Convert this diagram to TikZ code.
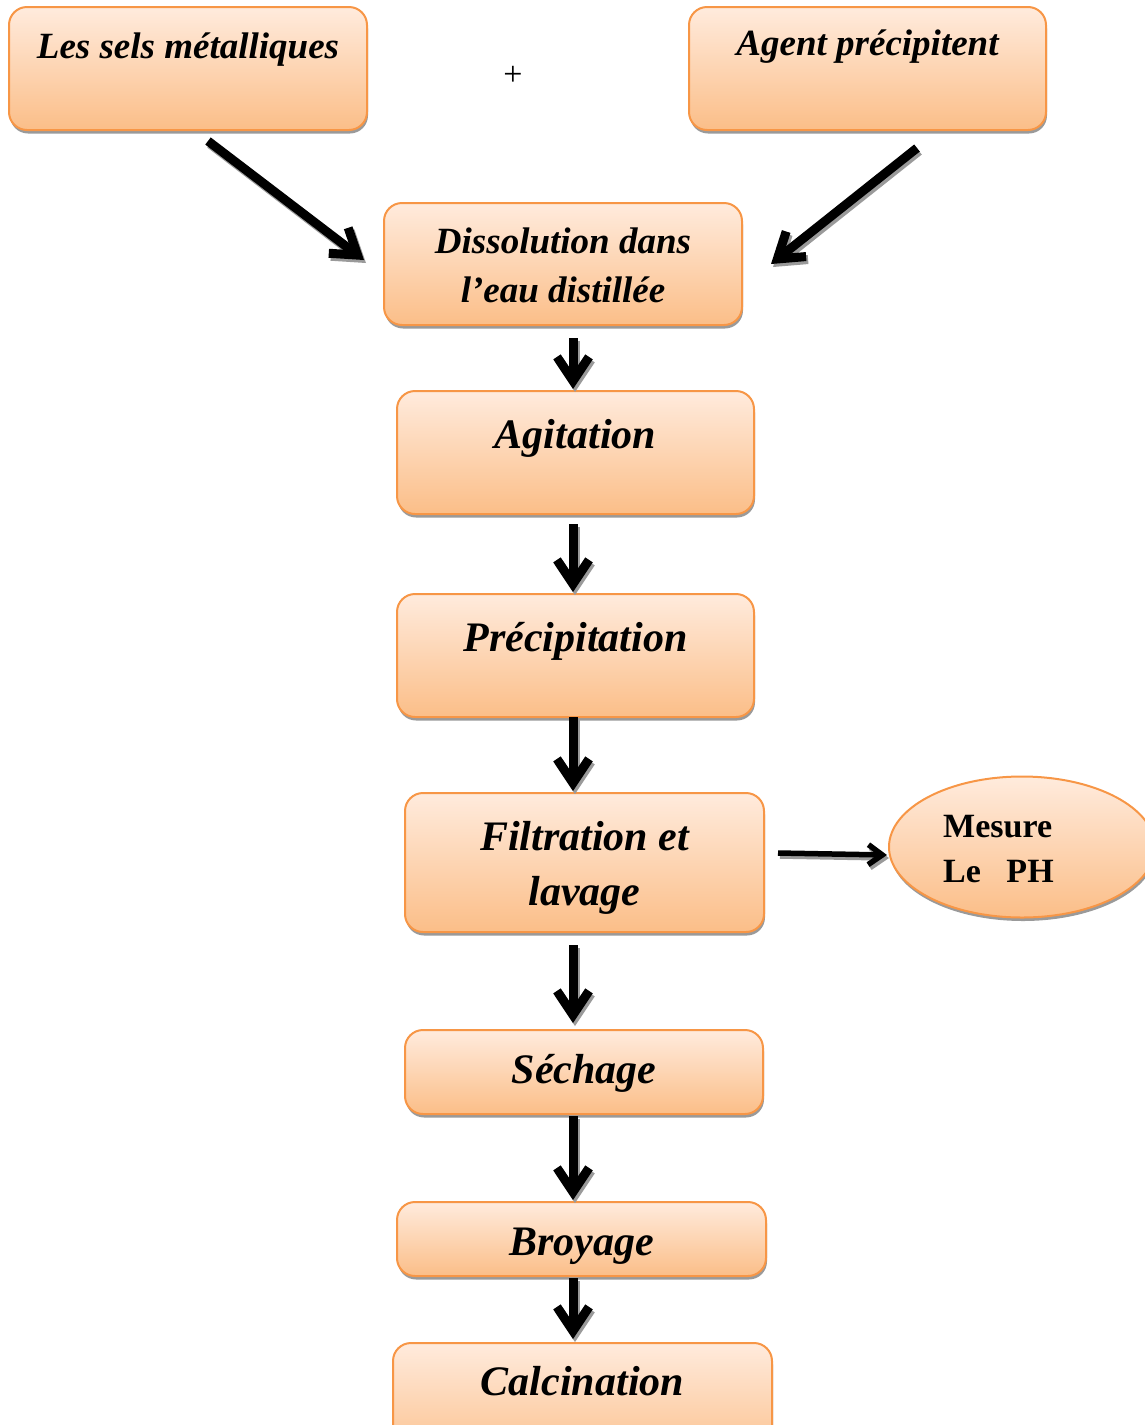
\documentclass[tikz,border=0pt]{standalone}
\usepackage{fontspec}
\setmainfont{Liberation Serif}
\usetikzlibrary{arrows.meta,shapes.geometric,shadows,calc}
\definecolor{boxline}{HTML}{F79646}
\definecolor{boxtop}{HTML}{FFEBDD}
\definecolor{boxbot}{HTML}{FBBE88}
\definecolor{shadowgray}{HTML}{9A9A9A}
% draws a connector with its gray shadow: #1 style, #2 start, #3 end
\newcommand{\shadconn}[3]{%
  \draw[#1, draw=shadowgray, transform canvas={shift={(2pt,-3pt)}}] #2 -- #3;
  \draw[#1] #2 -- #3;}
\begin{document}
\begin{tikzpicture}[x=1pt,y=-1pt,
  box/.style={draw=boxline, line width=2pt, rounded corners=18pt,
    top color=boxtop, bottom color=boxbot, inner sep=0pt,
    drop shadow={shadow xshift=1pt, shadow yshift=-3.5pt, fill=shadowgray, opacity=1}},
  oval/.style={ellipse, draw=boxline, line width=2pt,
    top color=boxtop, bottom color=boxbot, inner sep=0pt,
    drop shadow={shadow xshift=1pt, shadow yshift=-3.5pt, fill=shadowgray, opacity=1}},
  lblbig/.style={font=\bfseries\itshape\fontsize{42}{55}\selectfont, inner sep=0pt, align=center},
  lblsmall/.style={font=\bfseries\itshape\fontsize{37}{49}\selectfont, inner sep=0pt, align=center},
  lblup/.style={font=\bfseries\fontsize{34}{45}\selectfont, inner sep=0pt, align=left},
  arr/.style={line width=9pt, -{Straight Barb[length=24pt,width=32pt]}},
  arrthin/.style={line width=5.5pt, -{Straight Barb[length=14pt,width=20pt]}}
]
\useasboundingbox (0,0) rectangle (1145,1425);
\clip (0,0) rectangle (1145,1425);

\coordinate (ax) at (573,0);

% boxes
\node[box, minimum width=358, minimum height=123] (sels) at (188,68.5) {};
\node[box, minimum width=357, minimum height=123] (agent) at (867.5,68.5) {};
\node[box, minimum width=358, minimum height=122] (dis) at (563,264) {};
\node[box, minimum width=357, minimum height=123] (agit) at (575.5,452.5) {};
\node[box, minimum width=357, minimum height=123] (prec) at (575.5,655.5) {};
\node[box, minimum width=359, minimum height=139] (filt) at (584.5,862.5) {};
\node[box, minimum width=358, minimum height=84] (sech) at (584,1072) {};
\node[box, minimum width=369, minimum height=74] (broy) at (581.5,1239) {};
\node[box, minimum width=379, minimum height=123] (calc) at (582.5,1404.5) {};
\node[oval, minimum width=266, minimum height=141] (mes) at (1022,847) {};

% texts
\node[lblsmall, anchor=base] (sels-t) at ($(sels.north)+(0,52)$) {Les sels métalliques};
\node[lblsmall, anchor=base] (agent-t) at ($(agent.north)+(0,49)$) {Agent précipitent};
\node[lblsmall] (dis-t) at (563,265) {Dissolution dans\\l’eau distillée};
\node[lblbig, anchor=base] (agit-t) at ($(agit.north)+(0,58)$) {Agitation};
\node[lblbig, anchor=base] (prec-t) at ($(prec.north)+(0,58)$) {Précipitation};
\node[lblbig] (filt-t) at (584.5,867.5) {Filtration et\\lavage};
\node[lblbig, anchor=base] (sech-t) at ($(sech.north)+(0,54)$) {Séchage};
\node[lblbig, anchor=base] (broy-t) at ($(broy.north)+(0,54)$) {Broyage};
\node[lblbig, anchor=base] (calc-t) at ($(calc.north)+(0,53)$) {Calcination};
\node[lblup, anchor=west] (mes-t) at (943,849) {Mesure\\Le~~~PH};
\node[font=\fontsize{34}{40}\selectfont, inner sep=0pt] (plus) at (513,76) {+};

% connectors
\shadconn{arr}{($(sels.south)+(20,10)$)}{($(dis.west)+(-19,-4)$)}
\shadconn{arr}{($(agent.south)+(49.5,17)$)}{($(dis.east)+(28,0)$)}
\shadconn{arr}{($(dis.south -| ax)+(0,12)$)}{($(agit.north -| ax)+(0,-1)$)}
\shadconn{arr}{($(agit.south -| ax)+(0,9)$)}{($(prec.north -| ax)+(0,-1)$)}
\shadconn{arr}{($(prec.south -| ax)+(0,-1)$)}{($(filt.north -| ax)+(0,-1)$)}
\shadconn{arr}{($(filt.south -| ax)+(0,12)$)}{($(sech.north -| ax)+(0,-6)$)}
\shadconn{arr}{($(sech.south -| ax)+(0,1)$)}{($(broy.north -| ax)+(0,-1)$)}
\shadconn{arr}{($(broy.south -| ax)+(0,1)$)}{($(calc.north -| ax)+(0,-3)$)}
\shadconn{arrthin}{($(filt.east)+(13,-9.5)$)}{($(mes.west)+(-1,8)$)}
\end{tikzpicture}
\end{document}
